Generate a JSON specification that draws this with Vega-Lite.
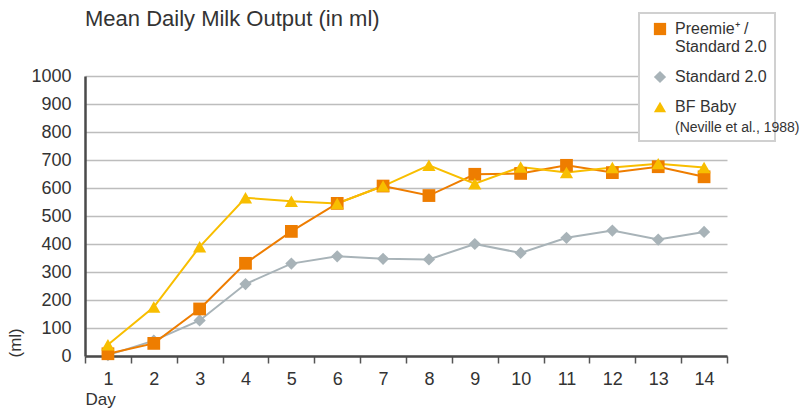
{
  "$schema": "https://vega.github.io/schema/vega-lite/v6.json",
  "width": 642,
  "height": 280,
  "autosize": {"type": "none"},
  "padding": {"left": 85, "top": 76, "right": 79, "bottom": 53},
  "background": "white",
  "title": {
    "text": "Mean Daily Milk Output (in ml)",
    "anchor": "start",
    "frame": "group",
    "orient": "top",
    "offset": -36,
    "baseline": "alphabetic",
    "font": "Liberation Sans",
    "fontSize": 22,
    "fontWeight": "normal",
    "color": "#333333"
  },
  "data": {
    "values": [
      {"day": 1, "series": "Standard 2.0", "ml": 3},
      {"day": 2, "series": "Standard 2.0", "ml": 55},
      {"day": 3, "series": "Standard 2.0", "ml": 127},
      {"day": 4, "series": "Standard 2.0", "ml": 257},
      {"day": 5, "series": "Standard 2.0", "ml": 330},
      {"day": 6, "series": "Standard 2.0", "ml": 356},
      {"day": 7, "series": "Standard 2.0", "ml": 347},
      {"day": 8, "series": "Standard 2.0", "ml": 345},
      {"day": 9, "series": "Standard 2.0", "ml": 400},
      {"day": 10, "series": "Standard 2.0", "ml": 368},
      {"day": 11, "series": "Standard 2.0", "ml": 422},
      {"day": 12, "series": "Standard 2.0", "ml": 448},
      {"day": 13, "series": "Standard 2.0", "ml": 416},
      {"day": 14, "series": "Standard 2.0", "ml": 443},
      {"day": 1, "series": "Preemie⁺ / Standard 2.0", "ml": 8},
      {"day": 2, "series": "Preemie⁺ / Standard 2.0", "ml": 45},
      {"day": 3, "series": "Preemie⁺ / Standard 2.0", "ml": 168},
      {"day": 4, "series": "Preemie⁺ / Standard 2.0", "ml": 331},
      {"day": 5, "series": "Preemie⁺ / Standard 2.0", "ml": 445},
      {"day": 6, "series": "Preemie⁺ / Standard 2.0", "ml": 545},
      {"day": 7, "series": "Preemie⁺ / Standard 2.0", "ml": 607},
      {"day": 8, "series": "Preemie⁺ / Standard 2.0", "ml": 573},
      {"day": 9, "series": "Preemie⁺ / Standard 2.0", "ml": 649},
      {"day": 10, "series": "Preemie⁺ / Standard 2.0", "ml": 652},
      {"day": 11, "series": "Preemie⁺ / Standard 2.0", "ml": 681},
      {"day": 12, "series": "Preemie⁺ / Standard 2.0", "ml": 655},
      {"day": 13, "series": "Preemie⁺ / Standard 2.0", "ml": 676},
      {"day": 14, "series": "Preemie⁺ / Standard 2.0", "ml": 640},
      {"day": 1, "series": "BF Baby", "ml": 40},
      {"day": 2, "series": "BF Baby", "ml": 175},
      {"day": 3, "series": "BF Baby", "ml": 390},
      {"day": 4, "series": "BF Baby", "ml": 565},
      {"day": 5, "series": "BF Baby", "ml": 553},
      {"day": 6, "series": "BF Baby", "ml": 545},
      {"day": 7, "series": "BF Baby", "ml": 607},
      {"day": 8, "series": "BF Baby", "ml": 681},
      {"day": 9, "series": "BF Baby", "ml": 615},
      {"day": 10, "series": "BF Baby", "ml": 675},
      {"day": 11, "series": "BF Baby", "ml": 655},
      {"day": 12, "series": "BF Baby", "ml": 673},
      {"day": 13, "series": "BF Baby", "ml": 687},
      {"day": 14, "series": "BF Baby", "ml": 673}
    ]
  },
  "encoding": {
    "x": {
      "field": "day",
      "type": "ordinal",
      "bandPosition": 0.5,
      "scale": {"type": "band", "paddingInner": 0, "paddingOuter": 0},
      "axis": {
        "labelAngle": 0,
        "tickBand": "extent",
        "tickSize": 7,
        "tickColor": "#555555",
        "tickWidth": 1.5,
        "domainColor": "#4a4a4a",
        "domainWidth": 2.5,
        "labelPadding": 7,
        "labelFont": "Liberation Sans",
        "labelFontSize": 18,
        "labelColor": "#333333",
        "title": "Day",
        "titleX": 0,
        "titleY": 48,
        "titleAlign": "left",
        "titleBaseline": "alphabetic",
        "titleFont": "Liberation Sans",
        "titleFontSize": 17,
        "titleFontWeight": "normal",
        "titleColor": "#333333"
      }
    },
    "y": {
      "field": "ml",
      "type": "quantitative",
      "scale": {"domain": [0, 1000], "nice": false},
      "axis": {
        "values": [0, 100, 200, 300, 400, 500, 600, 700, 800, 900, 1000],
        "format": "d",
        "grid": true,
        "gridColor": "#bdbdbd",
        "gridWidth": 1.5,
        "ticks": false,
        "domainColor": "#4a4a4a",
        "domainWidth": 2.5,
        "labelPadding": 14,
        "labelFont": "Liberation Sans",
        "labelFontSize": 18,
        "labelColor": "#333333",
        "title": "(ml)",
        "titleX": -70,
        "titleY": 281,
        "titleAngle": 270,
        "titleAlign": "left",
        "titleBaseline": "middle",
        "titleFont": "Liberation Sans",
        "titleFontSize": 17,
        "titleFontWeight": "normal",
        "titleColor": "#333333"
      }
    }
  },
  "layer": [
    {
      "mark": {"type": "line", "strokeWidth": 2},
      "encoding": {
        "stroke": {
          "field": "series",
          "type": "nominal",
          "scale": {
            "domain": ["Standard 2.0", "Preemie⁺ / Standard 2.0", "BF Baby"],
            "range": ["#A8B3B8", "#EE7D00", "#F8BE00"]
          },
          "legend": null
        }
      }
    },
    {
      "mark": {"type": "point", "filled": true, "opacity": 1, "strokeWidth": 0},
      "encoding": {
        "color": {
          "field": "series",
          "type": "nominal",
          "scale": {
            "domain": ["Preemie⁺ / Standard 2.0", "Standard 2.0", "BF Baby"],
            "range": ["#EE7D00", "#A8B3B8", "#F8BE00"]
          },
          "legend": {
            "title": null,
            "orient": "none",
            "legendX": 554,
            "legendY": -63,
            "padding": 8,
            "fillColor": "#ffffff",
            "strokeColor": "#d0d0d0",
            "symbolSize": 150,
            "symbolOffset": 5,
            "symbolStrokeWidth": 0,
            "symbolOpacity": 1,
            "labelOffset": 7,
            "rowPadding": 14,
            "labelFont": "Liberation Sans",
            "labelFontSize": 16,
            "labelColor": "#333333",
            "labelLimit": 300,
            "labelExpr": "datum.value === 'Preemie⁺ / Standard 2.0' ? ['Preemie⁺ /', 'Standard 2.0'] : datum.value === 'BF Baby' ? ['BF Baby', ' '] : datum.label",
            "encoding": {
              "legend": {
                "strokeWidth": {"value": 2}
              }
            }
          }
        },
        "shape": {
          "field": "series",
          "type": "nominal",
          "scale": {
            "domain": ["Preemie⁺ / Standard 2.0", "Standard 2.0", "BF Baby"],
            "range": ["square", "diamond", "triangle-up"]
          },
          "legend": {
            "title": null,
            "orient": "none",
            "legendX": 554,
            "legendY": -63
          }
        },
        "size": {
          "field": "series",
          "type": "nominal",
          "scale": {
            "domain": ["BF Baby", "Preemie⁺ / Standard 2.0", "Standard 2.0"],
            "range": [175, 150, 220]
          },
          "legend": null
        },
        "strokeDash": {
          "datum": "(Neville et al., 1988)",
          "type": "nominal",
          "scale": {"range": [[1, 0]]},
          "legend": {
            "title": null,
            "orient": "none",
            "legendX": 576,
            "legendY": 45,
            "padding": 0,
            "symbolSize": 1,
            "symbolOpacity": 0,
            "symbolStrokeWidth": 0,
            "labelOffset": 0,
            "labelFont": "Liberation Sans",
            "labelFontSize": 14,
            "labelColor": "#333333",
            "labelLimit": 300
          }
        }
      }
    }
  ],
  "config": {
    "view": {"stroke": null},
    "font": "Liberation Sans"
  }
}
